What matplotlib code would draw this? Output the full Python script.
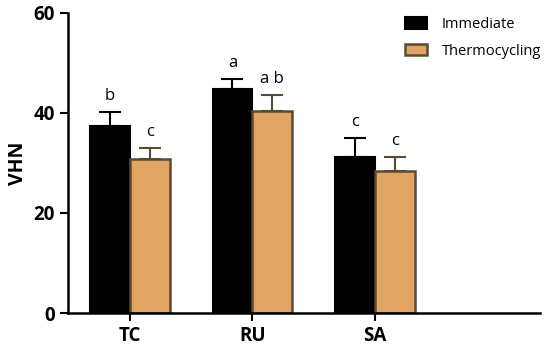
import numpy as np
import matplotlib.pyplot as plt

plt.rcParams['font.family'] = ['Open Sans', 'DejaVu Sans']

groups = ['TC', 'RU', 'SA']
immediate = [37.3, 44.8, 31.2]
immediate_err = [2.8, 2.0, 3.7]
thermo = [30.7, 40.4, 28.3]
thermo_err = [2.2, 3.2, 2.8]
letters_imm = ['b', 'a', 'c']
letters_thermo = ['c', 'a b', 'c']

fig = plt.figure(figsize=(5.5, 3.53), dpi=100)
ax = fig.add_axes([0.1236, 0.1133, 0.8584, 0.85])

x = np.arange(len(groups))
w = 0.325
brown = '#5b4a33'
orange = '#e2a462'

ax.bar(x - w/2, immediate, w, color='black', edgecolor='black', linewidth=1.5,
       yerr=[np.zeros(3), immediate_err], error_kw=dict(ecolor='black', elinewidth=1.5, capsize=8, capthick=1.5),
       label='Immediate', zorder=2)
ax.bar(x + w/2, thermo, w, color=orange, edgecolor=brown, linewidth=1.8,
       yerr=[np.zeros(3), thermo_err], error_kw=dict(ecolor=brown, elinewidth=1.5, capsize=8, capthick=1.5),
       label='Thermocycling', zorder=2)

# significance letters above the error bars
for i in range(3):
    ax.annotate(letters_imm[i], (x[i] - w/2, immediate[i] + immediate_err[i]), xytext=(0, 6),
                textcoords='offset points', ha='center', va='bottom', fontsize=12)
    ax.annotate(letters_thermo[i], (x[i] + w/2, thermo[i] + thermo_err[i]), xytext=(0, 6),
                textcoords='offset points', ha='center', va='bottom', fontsize=12)

ax.set_ylim(0, 60)
ax.set_xlim(-0.506, 3.35)
ax.set_yticks([0, 20, 40, 60])
ax.set_xticks(x)
ax.set_xticklabels(groups)
ax.set_ylabel('VHN', fontsize=14, fontweight='bold', labelpad=4)
ax.tick_params(axis='both', labelsize=13.5, width=1.5, length=6)
for lab in ax.get_xticklabels() + ax.get_yticklabels():
    lab.set_fontweight('bold')
for s in ['top', 'right']:
    ax.spines[s].set_visible(False)
for s in ['left', 'bottom']:
    ax.spines[s].set_linewidth(1.8)

ax.legend(loc='upper right', bbox_to_anchor=(1.03, 1.03), frameon=False, fontsize=10.5,
          handlelength=1.5, handleheight=0.8, handletextpad=1.0, labelspacing=0.8)

fig.savefig('out.png', dpi=100)
